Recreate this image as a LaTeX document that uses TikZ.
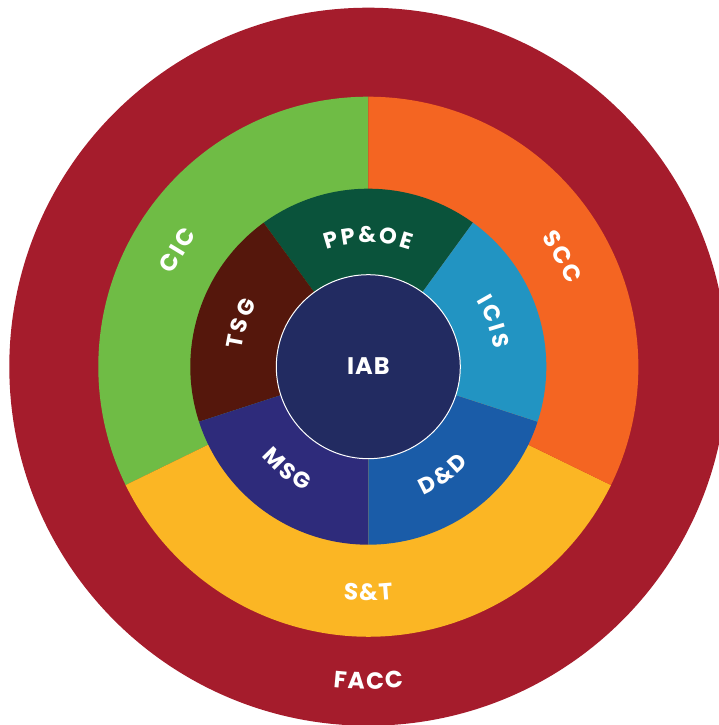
\documentclass[tikz,border=0pt]{standalone}
\usepackage{fontspec}
\setmainfont{Poppins}
\usetikzlibrary{decorations.text}
\definecolor{facccol}{HTML}{A51C2C}
\definecolor{ciccol}{HTML}{6FBC45}
\definecolor{scccol}{HTML}{F46522}
\definecolor{stcol}{HTML}{FBB624}
\definecolor{ppoecol}{HTML}{0A533B}
\definecolor{iciscol}{HTML}{2294C2}
\definecolor{ddcol}{HTML}{1A5CA8}
\definecolor{msgcol}{HTML}{2E2B7B}
\definecolor{tsgcol}{HTML}{55170C}
\definecolor{iabcol}{HTML}{222B61}
\newcommand\midlabfont{\fontsize{22.5}{22.5}\selectfont\bfseries}
\newcommand\outlabfont{\fontsize{23.5}{23.5}\selectfont\bfseries}
\newcommand\lsm{\kern2.4pt}
\newcommand\lso{\kern2pt}
\newcommand\lsf{\kern1.5pt}
\tikzset{
  arclabel/.style={decorate, decoration={text along path, text align=center, text color=white, text={#1}}},
}
% cw label (tops outward): angle, baseline radius, text
\newcommand\cwlabel[3]{\path[arclabel={#3}] (#1+45:#2) arc[start angle=#1+45, end angle=#1-45, radius=#2];}
% ccw label (tops inward)
\newcommand\ccwlabel[3]{\path[arclabel={#3}] (#1-45:#2) arc[start angle=#1-45, end angle=#1+45, radius=#2];}
\begin{document}
\begin{tikzpicture}[x=1pt,y=1pt]
\useasboundingbox (-368.3,-358.3) rectangle (350.7,366.7);
\coordinate (c) at (0,0);
% FACC
\fill[facccol] (c) circle[radius=359];
% outer ring
\fill[ciccol] (c) -- (90:270) arc[start angle=90, end angle=206, radius=270] -- cycle;
\fill[stcol] (c) -- (206:270) arc[start angle=206, end angle=334, radius=270] -- cycle;
\fill[scccol] (c) -- (-26:270) arc[start angle=-26, end angle=90, radius=270] -- cycle;
% middle ring
\fill[ppoecol] (c) -- (54:178) arc[start angle=54, end angle=126, radius=178] -- cycle;
\fill[tsgcol] (c) -- (126:178) arc[start angle=126, end angle=198, radius=178] -- cycle;
\fill[msgcol] (c) -- (198:178) arc[start angle=198, end angle=270, radius=178] -- cycle;
\fill[ddcol] (c) -- (270:178) arc[start angle=270, end angle=342, radius=178] -- cycle;
\fill[iciscol] (c) -- (-18:178) arc[start angle=-18, end angle=54, radius=178] -- cycle;
% centre
\fill[iabcol, draw=white, line width=1pt] (c) circle[radius=92];
\node[text=white, font=\fontsize{24}{24}\selectfont\bfseries] (iab) at (0,1) {I\kern1pt A\kern1pt B};
% middle labels
\cwlabel{90}{124.2}{|\midlabfont|P{\lsm}P{\lsm}{\&}{\lsm}O{\lsm}E}
\cwlabel{161.3}{127.6}{|\midlabfont|T{\lsm}S{\lsm}G}
\cwlabel{19.6}{126.8}{|\midlabfont|I{\lsm}C{\lsm}I{\lsm}S}
\ccwlabel{-55.3}{139.5}{|\midlabfont|D{\lsm}{\&}{\lsm}D}
\ccwlabel{-128.3}{139.5}{|\midlabfont|M{\lsm}S{\lsm}G}
% outer labels
\cwlabel{148.6}{216.1}{|\outlabfont|C{\lso}I{\lso}C}
\cwlabel{29.4}{215.8}{|\outlabfont|S{\lso}C{\lso}C}
\ccwlabel{-90}{234.2}{|\outlabfont|S{\lsf}{\&}{\lsf}T}
\ccwlabel{-90}{322.5}{|\outlabfont|F{\lsf}A{\lsf}C{\lsf}C}
\end{tikzpicture}
\end{document}
